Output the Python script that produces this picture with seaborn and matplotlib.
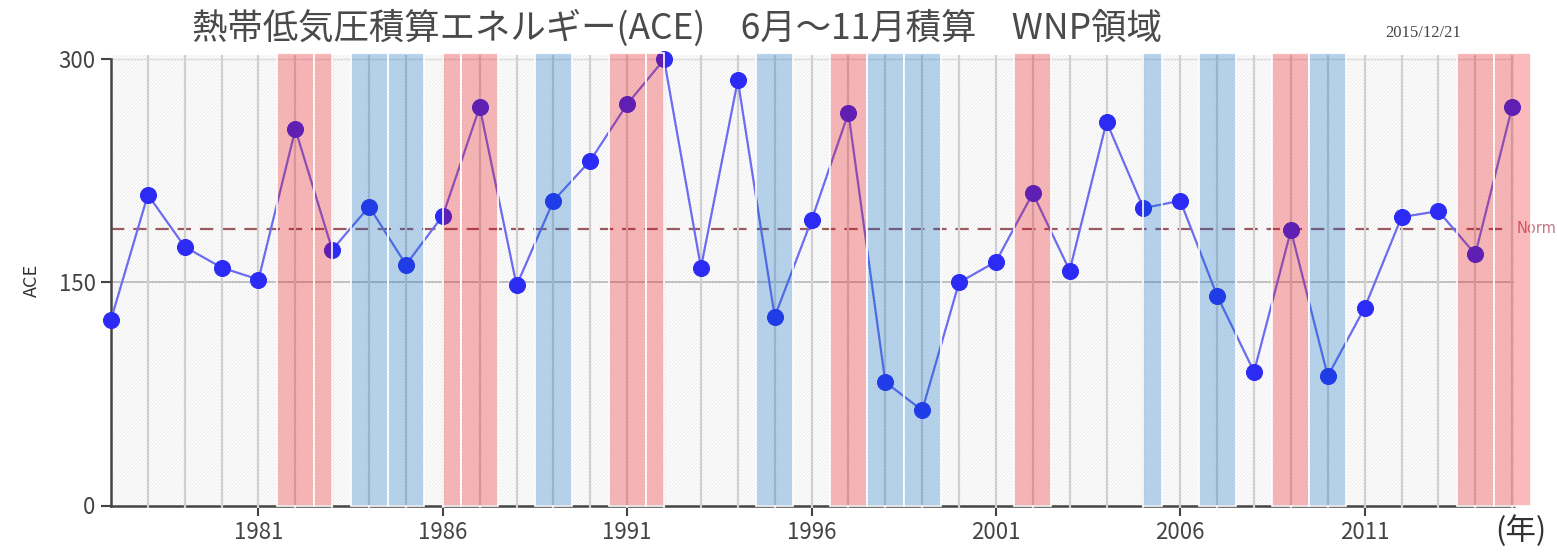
import matplotlib
matplotlib.use("Agg")
import matplotlib.pyplot as plt
import seaborn as sns
import numpy as np
import pandas as pd

# ---- data ----
years = list(range(1977, 2016))
ace = [125, 209, 174, 160, 152, 253, 172, 201, 162, 195,
       268, 148, 205, 232, 270, 300, 160, 286, 127, 192,
       264, 83, 64, 150, 164, 210, 158, 258, 200, 205,
       141, 90, 185, 87, 133, 194, 198, 169, 268]
norm_value = 186
el_nino_spans = [(1981.5, 1982.5), (1982.5, 1983.0), (1986.0, 1986.5), (1986.5, 1987.5),
                 (1990.5, 1991.5), (1991.5, 1992.0), (1996.5, 1997.5), (2001.5, 2002.5),
                 (2008.5, 2009.5), (2013.5, 2014.5), (2014.5, 2015.5)]
la_nina_spans = [(1983.5, 1984.5), (1984.5, 1985.5), (1988.5, 1989.5), (1994.5, 1995.5),
                 (1997.5, 1998.5), (1998.5, 1999.5), (2005.0, 2005.5), (2006.5, 2007.5),
                 (2009.5, 2010.5)]
x_ticks = [1981, 1986, 1991, 1996, 2001, 2006, 2011]
y_ticks = [0, 150, 300]
title = "熱帯低気圧積算エネルギー(ACE)　6月～11月積算　WNP領域"
date_label = "2015/12/21"

df = pd.DataFrame({"year": years, "ACE": ace})

sns.set_theme(style="white")
plt.rcParams["font.family"] = ["Noto Sans CJK JP", "DejaVu Sans"]
plt.rcParams["hatch.linewidth"] = 0.6

fig = plt.figure(figsize=(15.57, 5.55), dpi=100)
ax = fig.add_axes([111 / 1557, 1 - 505.5 / 555, (1514 - 111) / 1557, (505.5 - 55) / 555])

x0, x1 = 1977, 2015.05
ax.set_xlim(x0, x1)
ax.set_ylim(0, 303)

# hatched background
ax.axvspan(x0, x1, facecolor="white", edgecolor="#e9e9e9", hatch="/" * 10, lw=0, zorder=0)

# vertical year grid
ax.vlines(years[1:], -1.5, 303, colors="#d0d0d0", lw=1.6, zorder=3, clip_on=False)
# horizontal grid
ax.hlines([150], x0, x1, colors="#bdbdbd", lw=1.3, zorder=1)
ax.hlines([300], x0, x1, colors="#dcdcdc", lw=1.0, zorder=1)

# normal line
ax.hlines([norm_value], x0, 2015, colors="#9a5a60", lw=1.6, linestyles=(0, (6, 4)), zorder=2)
ax.text(2015.12, norm_value, "Norm", color="#c27784", fontsize=10.5, va="center", ha="left",
        family=["DejaVu Sans"])

# series
sns.lineplot(data=df, x="year", y="ACE", ax=ax, color="#6c6cf0", lw=1.6,
             marker="o", markersize=11.5, markerfacecolor="#2b2bf3",
             markeredgecolor="#2b2bf3", zorder=4, clip_on=False)

# ENSO bands on top, translucent
for s, e in el_nino_spans:
    ax.axvspan(s, e, ymin=0, ymax=1.005, facecolor=(0.93, 0.0, 0.03, 0.27),
               edgecolor="white", lw=1.2, zorder=5, clip_on=False)
for s, e in la_nina_spans:
    ax.axvspan(s, e, ymin=0, ymax=1.005, facecolor=(0.0, 0.42, 0.77, 0.27),
               edgecolor="white", lw=1.2, zorder=5, clip_on=False)

# axes styling
for side in ["top", "right"]:
    ax.spines[side].set_visible(False)
for side in ["left", "bottom"]:
    ax.spines[side].set_color("#444444")
    ax.spines[side].set_linewidth(1.8)
ax.spines["left"].set_bounds(0, 300)
ax.set_xticks(x_ticks)
ax.set_yticks(y_ticks)
ax.tick_params(axis="both", which="both", length=7, width=1.5, color="#444444",
               labelsize=16, labelcolor="#444444", pad=4)
ax.tick_params(axis="x", bottom=True, pad=4)
ax.tick_params(axis="y", left=True)
ax.set_xlabel("")
ax.set_ylabel("")

fig.text(32 / 1557, 1 - 280 / 555, "ACE", rotation=90, fontsize=13, color="#333333",
         ha="center", va="center")
fig.text(1521 / 1557, 1 - 531 / 555, "(年)", fontsize=22, color="#333333",
         ha="center", va="center")
fig.text(677 / 1557, 1 - 28 / 555, title, fontsize=25.5, color="#4a4a4a",
         ha="center", va="center")
fig.text(1423 / 1557, 1 - 33 / 555, date_label, fontsize=12, color="#444444",
         ha="center", va="center", family=["Liberation Serif"])

fig.savefig("out.png", dpi=100)
